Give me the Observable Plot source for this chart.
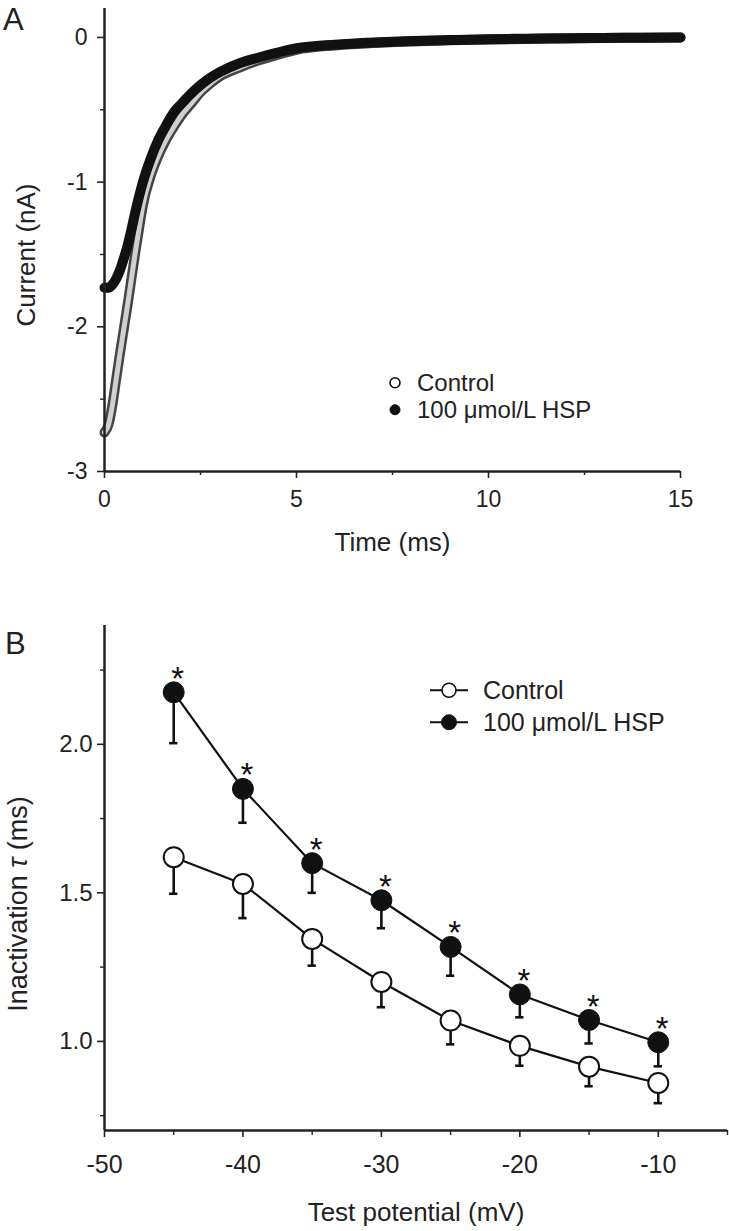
<!DOCTYPE html>
<html>
<head>
<meta charset="utf-8">
<script src="https://cdn.jsdelivr.net/npm/d3@7"></script>
<script src="https://cdn.jsdelivr.net/npm/@observablehq/plot@0.6"></script>
<style>
  body { margin: 0; background: #fff; }
  #wrap { position: relative; width: 729px; height: 1231px; font-family: Arial, "Liberation Sans", Helvetica, sans-serif; color: #222; overflow: hidden; }
  #wrap svg.plot { position: absolute; left: 0; overflow: visible; }
  .letter { position: absolute; font-size: 31px; line-height: 1; }
  .lg { position: absolute; line-height: 1; white-space: nowrap; }
  .lg svg { position: absolute; overflow: visible; }
</style>
</head>
<body>
<div id="wrap"></div>
<script>
// ---------- Panel A: current traces ----------
const timeMs = [0, 0.1, 0.2, 0.3, 0.4, 0.5, 0.6, 0.7, 0.8, 0.9, 1.0, 1.2, 1.4, 1.6, 1.8, 2.0, 2.25, 2.5, 2.75, 3.0, 3.5, 4.0, 4.5, 5, 6, 7, 8, 9, 10, 11, 12, 13, 14, 15];
const controlCurrent = [-2.73, -2.68, -2.55, -2.37, -2.19, -2.02, -1.85, -1.67, -1.49, -1.32, -1.16, -0.96, -0.82, -0.71, -0.62, -0.54, -0.46, -0.38, -0.32, -0.27, -0.21, -0.16, -0.12, -0.085, -0.055, -0.038, -0.028, -0.02, -0.014, -0.01, -0.007, -0.004, -0.002, 0];
const hspCurrent = [-1.73, -1.73, -1.71, -1.67, -1.61, -1.53, -1.44, -1.33, -1.21, -1.10, -1.00, -0.84, -0.71, -0.61, -0.52, -0.46, -0.39, -0.33, -0.28, -0.24, -0.18, -0.14, -0.105, -0.075, -0.05, -0.035, -0.025, -0.018, -0.012, -0.009, -0.006, -0.004, -0.002, 0];
const timeDomain = [0, 15];
const currentDomain = [-3, 0.2];
const timeTicks = [0, 5, 10, 15];
const timeMinorTicks = [2.5, 7.5, 12.5];
const currentTicks = [-3, -2, -1, 0];
const currentMinorTicks = [-2.5, -1.5, -0.5];

// ---------- Panel B: inactivation time constant ----------
const testPotential = [-45, -40, -35, -30, -25, -20, -15, -10];
const controlTau = [1.62, 1.53, 1.345, 1.20, 1.07, 0.985, 0.915, 0.86];
const controlSem = [0.123, 0.115, 0.09, 0.085, 0.08, 0.067, 0.066, 0.068];
const hspTau = [2.175, 1.85, 1.60, 1.475, 1.318, 1.158, 1.072, 0.997];
const hspSem = [0.171, 0.114, 0.10, 0.094, 0.097, 0.077, 0.079, 0.081];
const significant = [true, true, true, true, true, true, true, true];
const potentialDomain = [-50, -5];
const tauDomain = [0.7, 2.4];
const potentialTicks = [-50, -40, -30, -20, -10];
const potentialMinorTicks = [-45, -35, -25, -15, -5];
const tauTicks = [1.0, 1.5, 2.0];
const tauMinorTicks = [0.75, 1.25, 1.75, 2.25];

const seriesNames = ["Control", "100 μmol/L HSP"];

const FONT = 'Arial, "Liberation Sans", Helvetica, sans-serif';
const INK = "#222";
const hyphenFormat = d => String(d);
const wrap = document.getElementById("wrap");

function shiftLabel(svg, needle, dy) {
  d3.select(svg).selectAll("text").each(function () {
    if (this.textContent.includes(needle)) {
      const tr = this.getAttribute("transform") || "";
      this.setAttribute("transform", `translate(0,${dy}) ${tr}`);
    }
  });
}

// ---------- Plot A ----------
const controlRows = timeMs.map((t, i) => ({t, I: controlCurrent[i]}));
const hspRows = timeMs.map((t, i) => ({t, I: hspCurrent[i]}));

const plotA = Plot.plot({
  width: 729, height: 600,
  marginLeft: 104, marginRight: 49, marginTop: 8, marginBottom: 129,
  style: {fontFamily: FONT, fontSize: "23px", color: INK, background: "transparent"},
  x: {domain: timeDomain},
  y: {domain: currentDomain},
  marks: [
    Plot.line(controlRows, {x: "t", y: "I", stroke: "#444", strokeWidth: 10, curve: "monotone-x", strokeLinecap: "round"}),
    Plot.line(controlRows, {x: "t", y: "I", stroke: "#d0d0d0", strokeWidth: 5, curve: "monotone-x", strokeLinecap: "round"}),
    Plot.line(hspRows, {x: "t", y: "I", stroke: "#111", strokeWidth: 10, curve: "monotone-x", strokeLinecap: "round"}),
    Plot.ruleX([timeDomain[0]], {stroke: INK, strokeWidth: 2.5}),
    Plot.ruleY([currentDomain[0]], {stroke: INK, strokeWidth: 2.5}),
    Plot.axisX({ticks: timeTicks, tickSize: 7, tickPadding: 12, tickFormat: hyphenFormat, strokeWidth: 1.6, label: null, fontSize: 23}),
    Plot.axisX({ticks: timeMinorTicks, tickSize: 4, tickFormat: () => "", strokeWidth: 1.4, label: null}),
    Plot.axisX({ticks: [], label: "Time (ms)", labelAnchor: "center", labelOffset: 79, labelArrow: "none", fontSize: 26}),
    Plot.axisY({ticks: currentTicks, tickSize: 7, tickPadding: 10, tickFormat: hyphenFormat, strokeWidth: 1.6, label: null, fontSize: 23}),
    Plot.axisY({ticks: currentMinorTicks, tickSize: 4, tickFormat: () => "", strokeWidth: 1.4, label: null}),
    Plot.axisY({ticks: [], label: "Current (nA)", labelAnchor: "center", labelOffset: 88, labelArrow: "none", fontSize: 26})
  ]
});
plotA.classList.add("plot");
plotA.style.top = "0px";
shiftLabel(plotA, "Current", 15);
wrap.appendChild(plotA);

// ---------- Plot B ----------
const rowsB = testPotential.map((v, i) => ({
  v, c: controlTau[i], cs: controlSem[i], h: hspTau[i], hs: hspSem[i], sig: significant[i]
}));
const capHalf = 0.3;

const plotB = Plot.plot({
  width: 729, height: 631,
  marginLeft: 104, marginRight: 2, marginTop: 25, marginBottom: 101,
  style: {fontFamily: FONT, fontSize: "24px", color: INK, background: "transparent"},
  x: {domain: potentialDomain},
  y: {domain: tauDomain},
  marks: [
    Plot.ruleX(rowsB, {x: "v", y1: d => d.c - d.cs, y2: "c", stroke: "#111", strokeWidth: 2.6}),
    Plot.ruleY(rowsB, {y: d => d.c - d.cs, x1: d => d.v - capHalf, x2: d => d.v + capHalf, stroke: "#111", strokeWidth: 2.6}),
    Plot.ruleX(rowsB, {x: "v", y1: d => d.h - d.hs, y2: "h", stroke: "#111", strokeWidth: 2.6}),
    Plot.ruleY(rowsB, {y: d => d.h - d.hs, x1: d => d.v - capHalf, x2: d => d.v + capHalf, stroke: "#111", strokeWidth: 2.6}),
    Plot.line(rowsB, {x: "v", y: "c", stroke: "#111", strokeWidth: 2.2}),
    Plot.line(rowsB, {x: "v", y: "h", stroke: "#111", strokeWidth: 2.2}),
    Plot.dot(rowsB, {x: "v", y: "c", r: 10, fill: "white", stroke: "#111", strokeWidth: 2}),
    Plot.dot(rowsB, {x: "v", y: "h", r: 10.5, fill: "#111", stroke: "#111", strokeWidth: 1}),
    Plot.text(rowsB.filter(d => d.sig), {x: "v", y: "h", text: () => "*", dx: 4, dy: -13, fontSize: 33, lineAnchor: "middle", fill: "#111"}),
    Plot.ruleX([potentialDomain[0]], {stroke: INK, strokeWidth: 2.5}),
    Plot.ruleY([tauDomain[0]], {stroke: INK, strokeWidth: 2.5}),
    Plot.axisX({ticks: potentialTicks, tickSize: 7, tickPadding: 18, tickFormat: hyphenFormat, strokeWidth: 1.6, label: null, fontSize: 25}),
    Plot.axisX({ticks: potentialMinorTicks, tickSize: 5, tickFormat: () => "", strokeWidth: 1.4, label: null}),
    Plot.axisX({ticks: [], label: "Test potential (mV)", labelAnchor: "center", labelOffset: 90, labelArrow: "none", fontSize: 26}),
    Plot.axisY({ticks: tauTicks, tickSize: 7, tickPadding: 5, tickFormat: d3.format(".1f"), strokeWidth: 1.6, label: null, fontSize: 24}),
    Plot.axisY({ticks: tauMinorTicks, tickSize: 4, tickFormat: () => "", strokeWidth: 1.4, label: null}),
    Plot.axisY({ticks: [], label: "Inactivation τ (ms)", labelAnchor: "center", labelOffset: 97, labelArrow: "none", fontSize: 27})
  ]
});
plotB.classList.add("plot");
plotB.style.top = "600px";

// italic tau in y label
d3.select(plotB).selectAll("text").each(function () {
  const t = this.textContent;
  if (t.includes("τ") && !this.querySelector("tspan.tau")) {
    const parts = t.split("τ");
    const sel = d3.select(this);
    sel.text(null);
    sel.append("tspan").text(parts[0]);
    sel.append("tspan").attr("class", "tau").attr("font-style", "italic").text("τ");
    sel.append("tspan").text(parts[1]);
  }
});
shiftLabel(plotB, "Inactivation", 26);
wrap.appendChild(plotB);

// ---------- Panel letters ----------
function letter(txt, left, top) {
  const d = document.createElement("div");
  d.className = "letter";
  d.textContent = txt;
  d.style.left = left + "px";
  d.style.top = top + "px";
  wrap.appendChild(d);
}
letter("A", 3, 4);
letter("B", 5, 628);

// ---------- Legends ----------
function legendRow({left, top, fontSize, name, filled, r, lineHalf, textLeft}) {
  const d = document.createElement("div");
  d.className = "lg";
  d.style.left = left + "px";
  d.style.top = top + "px";
  d.style.fontSize = fontSize + "px";
  const cy = fontSize * 0.49;
  const svgNS = "http://www.w3.org/2000/svg";
  const svg = document.createElementNS(svgNS, "svg");
  svg.setAttribute("width", 2);
  svg.setAttribute("height", 2);
  svg.style.left = "0px";
  svg.style.top = "0px";
  if (lineHalf) {
    const ln = document.createElementNS(svgNS, "line");
    ln.setAttribute("x1", -lineHalf); ln.setAttribute("x2", lineHalf);
    ln.setAttribute("y1", cy); ln.setAttribute("y2", cy);
    ln.setAttribute("stroke", "#111"); ln.setAttribute("stroke-width", 2.2);
    svg.appendChild(ln);
  }
  const c = document.createElementNS(svgNS, "circle");
  c.setAttribute("cx", 0); c.setAttribute("cy", cy); c.setAttribute("r", r);
  c.setAttribute("fill", filled ? "#111" : "white");
  c.setAttribute("stroke", "#111"); c.setAttribute("stroke-width", filled ? 1 : 1.6);
  svg.appendChild(c);
  d.appendChild(svg);
  const s = document.createElement("span");
  s.textContent = name;
  s.style.position = "absolute";
  s.style.left = textLeft + "px";
  s.style.top = "0px";
  d.appendChild(s);
  wrap.appendChild(d);
}
// panel A legend
legendRow({left: 395, top: 371, fontSize: 24, name: seriesNames[0], filled: false, r: 5, lineHalf: 0, textLeft: 22});
legendRow({left: 395, top: 398, fontSize: 24, name: seriesNames[1], filled: true, r: 5, lineHalf: 0, textLeft: 22});
// panel B legend
legendRow({left: 449, top: 678, fontSize: 25, name: seriesNames[0], filled: false, r: 7, lineHalf: 19, textLeft: 34});
legendRow({left: 449, top: 710, fontSize: 25, name: seriesNames[1], filled: true, r: 7.5, lineHalf: 19, textLeft: 34});
</script>
</body>
</html>
